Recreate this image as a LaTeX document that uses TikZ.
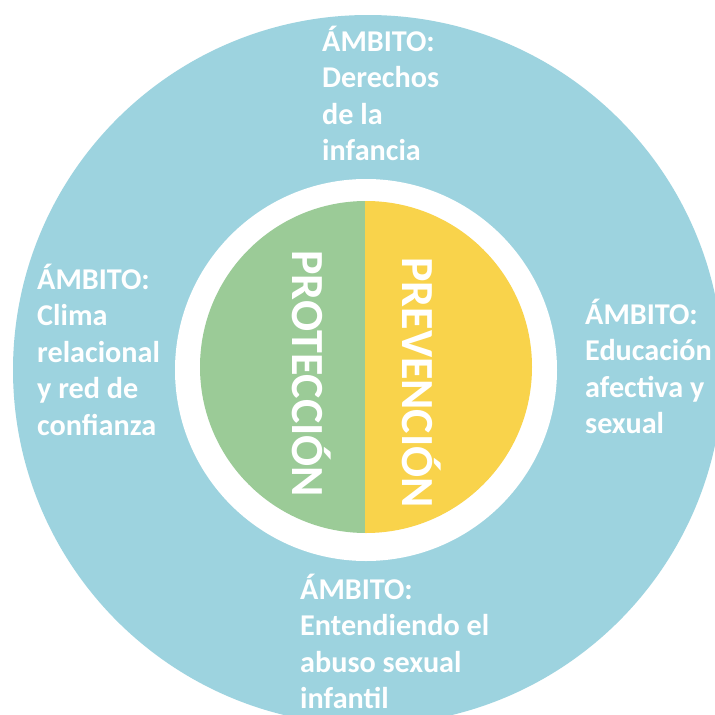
\documentclass[tikz,border=0pt]{standalone}
\usepackage{fontspec}
\setmainfont{Carlito}
\definecolor{ringblue}{RGB}{157,211,223}
\definecolor{protgreen}{RGB}{155,203,151}
\definecolor{prevyellow}{RGB}{249,211,75}
\begin{document}
\begin{tikzpicture}[x=1pt,y=-1pt,
  amb/.style={text=white, font=\bfseries\fontsize{30.2}{36.5}\selectfont, inner sep=0pt, anchor=base west},
  core/.style={text=white, font=\bfseries\fontsize{46}{46}\selectfont, inner sep=0pt, anchor=base west, rotate=-90}]
\useasboundingbox (0,0) rectangle (715,715);
\fill[white] (0,0) rectangle (715,715);
\begin{scope}
\clip (0,0) rectangle (715,715);
\fill[ringblue] (368,370) circle [radius=355pt];
\fill[white] (366,370) circle [radius=191pt];
\begin{scope}
\clip (366,367) circle [radius=166pt];
\fill[protgreen] (190,190) rectangle (365,540);
\fill[prevyellow] (365,190) rectangle (540,540);
\end{scope}
\end{scope}
\node[core] (prot) at (292,250) {PROTECCIÓN};
\node[core] (prev) at (402,257) {PREVENCIÓN};
\node[amb] (top) at (322,51) {\vtop{\hbox{ÁMBITO:}\hbox{Derechos}\hbox{de la}\hbox{infancia}}};
\node[amb] (left) at (37,289) {\vtop{\hbox{ÁMBITO:}\hbox{Clima}\hbox{relacional}\hbox{y red de}\hbox{confianza}}};
\node[amb] (right) at (585,324) {\vtop{\hbox{ÁMBITO:}\hbox{Educación}\hbox{afectiva y}\hbox{sexual}}};
\node[amb] (bottom) at (300,599) {\vtop{\hbox{ÁMBITO:}\hbox{Entendiendo el}\hbox{abuso sexual}\hbox{infantil}}};
\end{tikzpicture}
\end{document}
